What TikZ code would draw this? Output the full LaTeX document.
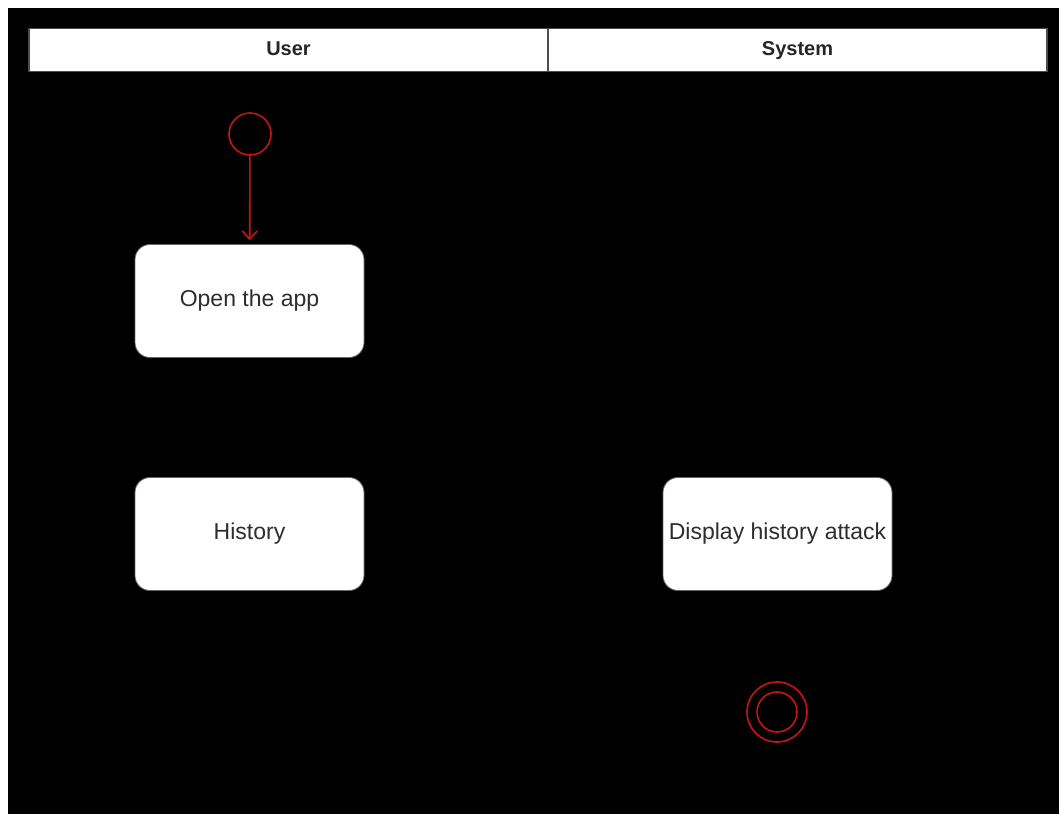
\documentclass[tikz,border=0pt]{standalone}
\usepackage{fontspec}
\setmainfont{Liberation Sans}
\usetikzlibrary{arrows.meta}
\definecolor{umlred}{RGB}{200,20,20}
\definecolor{txtgray}{RGB}{45,45,45}
\tikzset{
  actbox/.style={draw=black!60, line width=0.8pt, fill=white, rounded corners=15pt,
    minimum width=229pt, minimum height=113pt, inner sep=0pt,
    font=\fontsize{23}{27}\selectfont, text=txtgray},
  lanehead/.style={draw=black!70, line width=1.2pt, fill=white,
    minimum height=43pt, inner sep=0pt, text height=15pt, text depth=4pt,
    font=\bfseries\fontsize{20}{24}\selectfont, text=black!85},
  startnode/.style={circle, draw=umlred, line width=1.6pt, minimum size=42pt, inner sep=0pt},
  endouter/.style={circle, draw=umlred, line width=1.6pt, minimum size=60pt, inner sep=0pt},
  endinner/.style={circle, draw=umlred, line width=1.6pt, minimum size=40pt, inner sep=0pt},
  flow/.style={draw=umlred, line width=1.6pt, shorten >=4pt,
    -{Straight Barb[length=8pt,width=15pt,line width=1.6pt]}}
}
\begin{document}
\begin{tikzpicture}[x=1pt,y=-1pt]
\useasboundingbox (0,0) rectangle (1059,814);
\fill[white] (0,0) rectangle (1059,814);
\fill[black] (8,8) rectangle (1059,814);
% lane headers
\node[lanehead, minimum width=519pt] (user) at (288.5,50) {User};
\node[lanehead, minimum width=499pt] (system) at (797.5,50) {System};
% start
\node[startnode] (start) at (250,134) {};
% activities
\node[actbox] (open) at (249.5,301) {Open the app};
\node[actbox] (hist) at (249.5,534) {History};
\node[actbox] (disp) at (777.5,534) {Display history attack};
% end
\node[endouter] (endo) at (777,712) {};
\node[endinner] (endi) at (777,712) {};
% connector
\draw[flow] (start) -- (open);
\end{tikzpicture}
\end{document}
